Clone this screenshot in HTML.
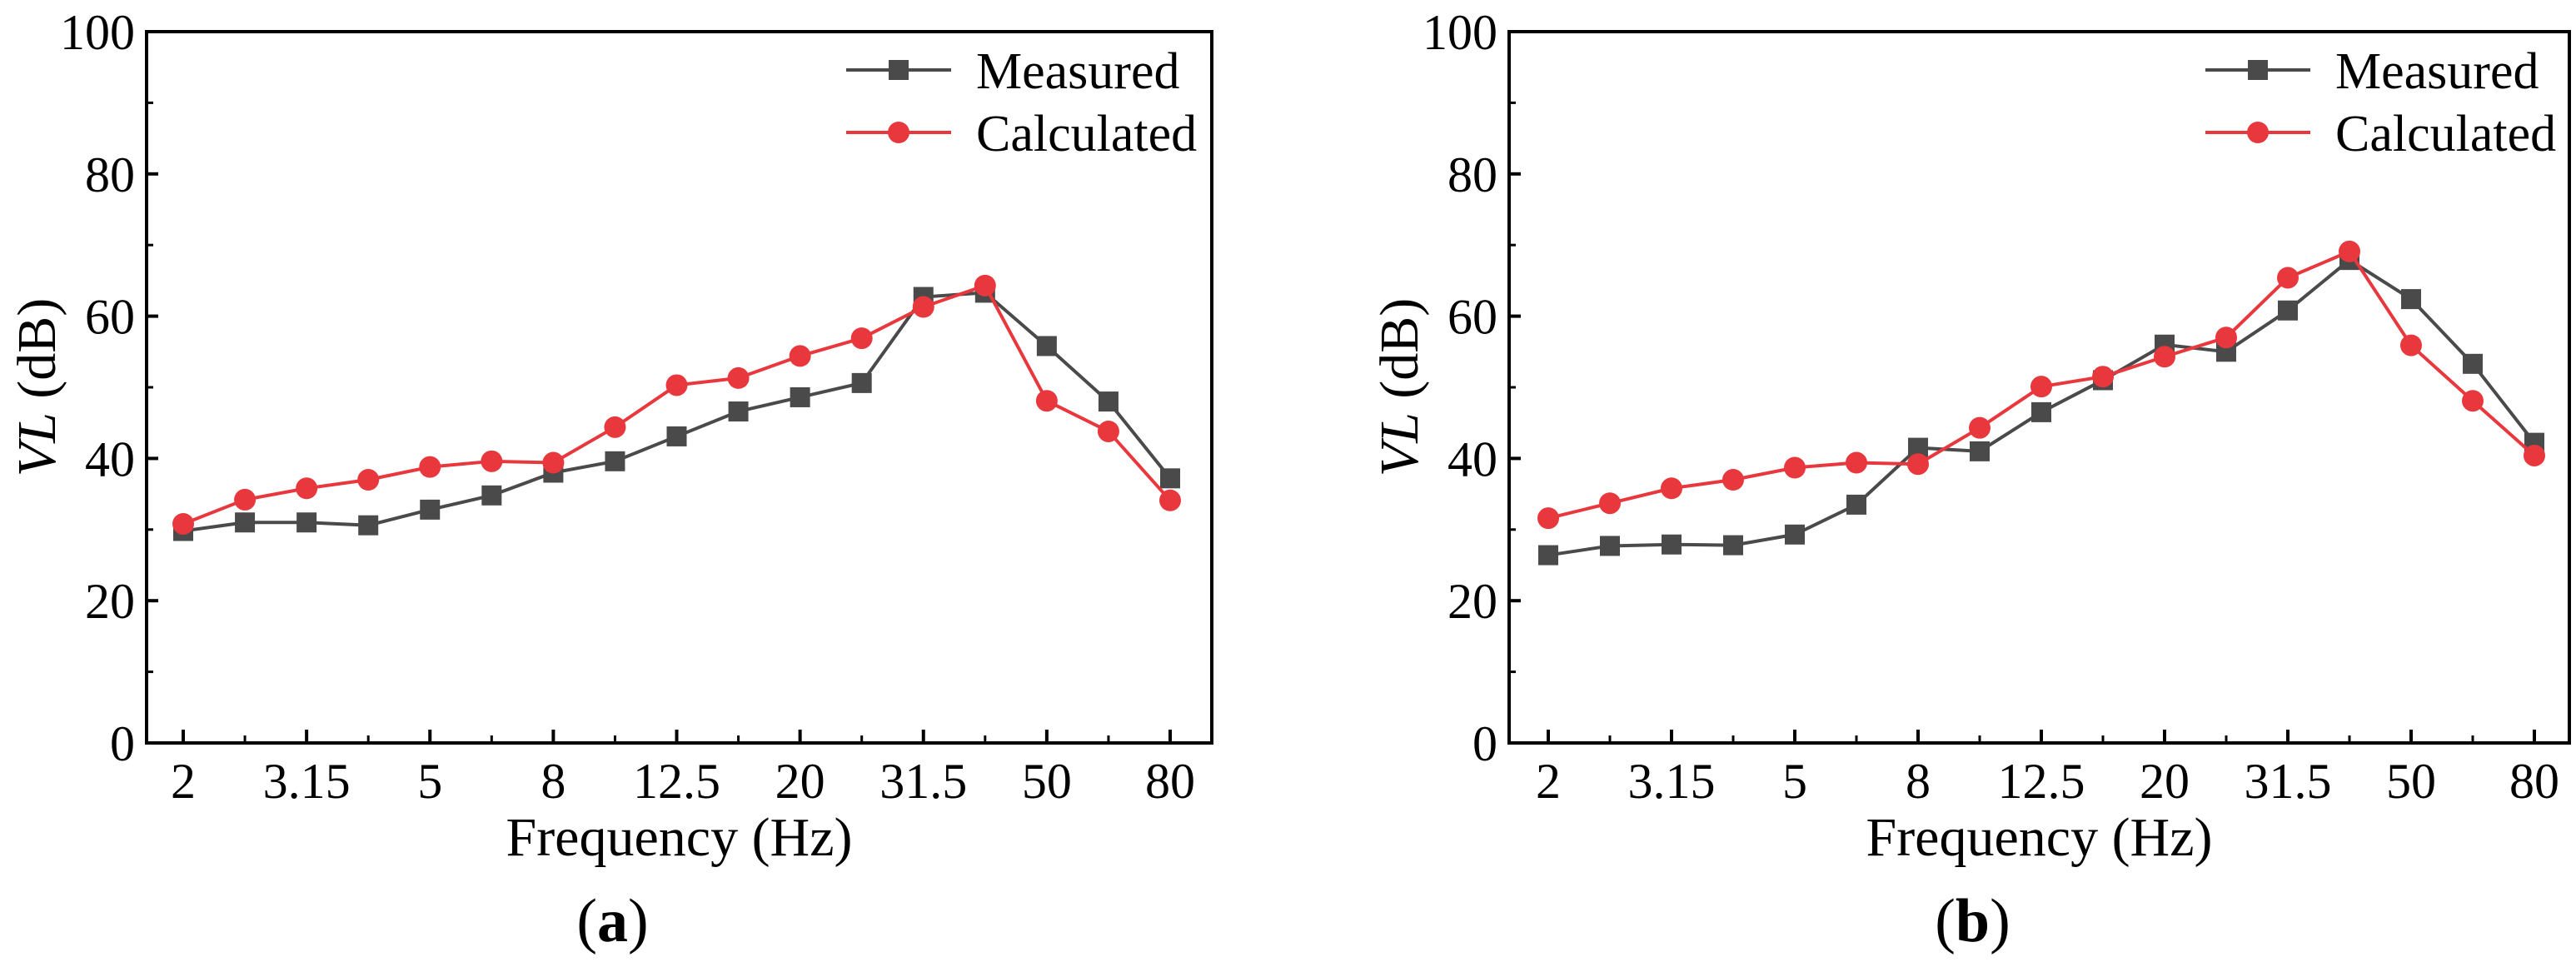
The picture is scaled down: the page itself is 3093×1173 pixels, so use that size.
<!DOCTYPE html>
<html><head><meta charset="utf-8"><style>
html,body{margin:0;padding:0;background:#fff;}
svg{display:block;font-family:"Liberation Serif",serif;}
</style></head><body>
<svg id="fig" width="3093" height="1173" viewBox="0 0 3093 1173"></svg>
<script>
const categories=["2","2.5","3.15","4","5","6.3","8","10","12.5","16","20","25","31.5","40","50","63","80"];
const labeledCats=["2","3.15","5","8","12.5","20","31.5","50","80"];
const yTicks=[0,20,40,60,80,100];
const yMinor=[10,30,50,70,90];
const measuredA=[29.8,31,31,30.6,32.8,34.8,38,39.6,43.1,46.6,48.6,50.6,62.7,63.3,55.8,48,37.2];
const calculatedA=[30.8,34.2,35.8,37,38.8,39.6,39.4,44.4,50.3,51.3,54.4,56.9,61.3,64.3,48.1,43.8,34.1];
const measuredB=[26.4,27.7,27.9,27.8,29.3,33.5,41.5,41.0,46.5,51,56,55,60.8,67.9,62.4,53.3,42.2];
const calculatedB=[31.6,33.7,35.8,37,38.7,39.4,39.2,44.3,50.1,51.5,54.3,57,65.4,69.1,55.9,48.1,40.4];

const NS="http://www.w3.org/2000/svg";
const svg=document.getElementById('fig');
function mk(tag,attrs,parent,text){const e=document.createElementNS(NS,tag);for(const k in attrs)e.setAttribute(k,attrs[k]);if(text!==undefined)e.textContent=text;parent.appendChild(e);return e;}
const GRAY="#4a4a4a",RED="#e8383d";

function panel(id,left,right,firstX,lastX,meas,calc,letter,legX){
  const top=38,bottom=892;
  const g=mk('g',{},svg);
  
  
  const xs=i=>firstX+(lastX-firstX)*i/(categories.length-1);
  const ys=v=>bottom-(v/100)*(bottom-top);
  const fr=mk('rect',{x:left,y:top,width:right-left,height:bottom-top,fill:'none',stroke:'#000','stroke-width':4},g);
  
  
  yTicks.forEach(v=>{
    mk('line',{x1:left,x2:left+14,y1:ys(v),y2:ys(v),stroke:'#000','stroke-width':4},g);
    const t=mk('text',{x:left-14,y:ys(v)+21,'text-anchor':'end','font-size':60},g,String(v));
    
    
  });
  yMinor.forEach(v=>mk('line',{x1:left,x2:left+8,y1:ys(v),y2:ys(v),stroke:'#000','stroke-width':3},g));
  categories.forEach((c,i)=>{
    const major=labeledCats.includes(c);
    mk('line',{x1:xs(i),x2:xs(i),y1:bottom,y2:bottom-(major?16:9),stroke:'#000','stroke-width':major?4:3},g);
    if(major){
      const t=mk('text',{x:xs(i),y:958,'text-anchor':'middle','font-size':60},g,c);
      
      
    }
  });
  const xt=mk('text',{x:(left+right)/2,y:1027,'text-anchor':'middle','font-size':66},g,'Frequency (Hz)');
  
  
  const yt=mk('text',{transform:`translate(${left-110},${(top+bottom)/2}) rotate(-90)`,'text-anchor':'middle','font-size':66},g);
  
  
  mk('tspan',{'font-style':'italic'},yt,'VL');
  mk('tspan',{},yt,' (dB)');
  const lt=mk('text',{x:(left+right)/2-80,y:1130,'text-anchor':'middle','font-size':74},g);
  
  
  mk('tspan',{},lt,'(');mk('tspan',{'font-weight':'bold'},lt,letter);mk('tspan',{},lt,')');
  function series(vals,color,shape,name){
    const sg=mk('g',{},g);
    
    
    mk('polyline',{points:vals.map((v,i)=>xs(i)+','+ys(v)).join(' '),fill:'none',stroke:color,'stroke-width':4},sg);
    vals.forEach((v,i)=>{
      let m;
      if(shape==='sq') m=mk('rect',{x:xs(i)-12,y:ys(v)-12,width:24,height:24,fill:color},sg);
      else m=mk('circle',{cx:xs(i),cy:ys(v),r:13,fill:color},sg);
      
      
    });
  }
  series(meas,GRAY,'sq','measured-series');
  series(calc,RED,'ci','calculated-series');
  const lg=mk('g',{},g);
  
  
  mk('line',{x1:legX,x2:legX+126,y1:84,y2:84,stroke:GRAY,'stroke-width':4},lg);
  mk('rect',{x:legX+51,y:72,width:24,height:24,fill:GRAY},lg);
  const l1=mk('text',{x:legX+156,y:106,'font-size':62},lg,'Measured');
  
  
  mk('line',{x1:legX,x2:legX+126,y1:159,y2:159,stroke:RED,'stroke-width':4},lg);
  mk('circle',{cx:legX+63,cy:159,r:13,fill:RED},lg);
  const l2=mk('text',{x:legX+156,y:181,'font-size':62},lg,'Calculated');
  
  
}
panel('a',176,1455,220,1405,measuredA,calculatedA,'a',1016);
panel('b',1812,3085,1859,3043,measuredB,calculatedB,'b',2648);
</script>
</body></html>
